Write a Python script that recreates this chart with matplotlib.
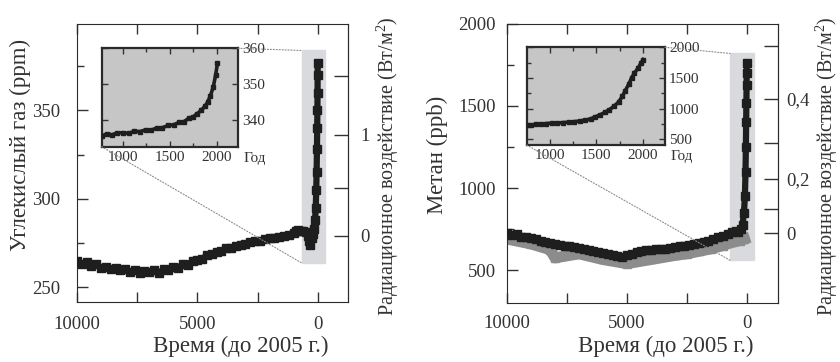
import numpy as np
import matplotlib.pyplot as plt
from matplotlib.patches import Rectangle, ConnectionPatch
from matplotlib.ticker import FixedLocator, FuncFormatter

plt.rcParams['font.family'] = ['Liberation Serif', 'DejaVu Serif']
plt.rcParams['mathtext.fontset'] = 'custom'
plt.rcParams['mathtext.rm'] = 'Liberation Serif'
plt.rcParams['text.color'] = '#333333'
plt.rcParams['xtick.color'] = '#333333'
plt.rcParams['ytick.color'] = '#333333'
plt.rcParams['axes.edgecolor'] = '#2a2a2a'

# углекислый газ, годы до 2005 г.
co2_years = [10000, 9800, 9600, 9400, 9200, 9000, 8800, 8600, 8400, 8200, 8000, 7800,
             7600, 7400, 7200, 7000, 6800, 6600, 6400, 6200, 6000, 5800, 5600, 5400,
             5200, 5000, 4800, 4600, 4400, 4200, 4000, 3800, 3600, 3400, 3200, 3000,
             2800, 2600, 2400, 2200, 2000, 1800, 1600, 1400, 1200, 1000, 900, 800,
             700, 600, 500, 420, 350, 300, 250, 200, 150, 110, 80, 60, 45, 30, 20,
             12, 6, 2, 0]
co2_ppm = [264.5, 263, 264, 262, 263, 261, 261.5, 260, 261, 259.5, 260, 258.5,
           259.5, 258, 259, 258.5, 259.5, 258, 260, 259.5, 261.5, 261, 263, 262.5,
           265, 265.5, 266, 268, 268.5, 270, 270.5, 272, 272, 273.5, 274, 274.5,
           275.5, 276, 276, 277, 277.5, 278, 278.5, 279, 279.5, 280.5, 282, 282.5,
           281.5, 282, 281, 279, 276, 274, 278, 280, 283, 288, 295, 305, 315, 328, 340,
           350, 360, 370, 377]

# метан: основной (чёрный) ряд и второй (серый) ряд
ch4_years = [10000, 9800, 9600, 9400, 9200, 9000, 8800, 8600, 8400, 8200, 8000, 7800,
             7600, 7400, 7200, 7000, 6800, 6600, 6400, 6200, 6000, 5800, 5600, 5400,
             5200, 5000, 4800, 4600, 4400, 4200, 4000, 3800, 3600, 3400, 3200, 3000,
             2800, 2600, 2400, 2200, 2000, 1800, 1600, 1400, 1200, 1000, 800, 600,
             450, 350, 250, 180, 120, 80, 55, 40, 28, 18, 10, 5, 0]
ch4_ppb = [725, 715, 720, 705, 700, 695, 690, 680, 672, 668, 660, 655,
           648, 645, 640, 632, 628, 620, 615, 608, 602, 598, 590, 585,
           582, 590, 600, 612, 615, 620, 625, 628, 630, 628, 635, 640,
           645, 650, 652, 658, 665, 670, 680, 690, 700, 710, 722, 735,
           740, 735, 750, 775, 850, 950, 1100, 1250, 1400, 1520, 1630, 1700, 1760]
ch4_years_b = [10000, 9000, 8200, 8000, 7000, 6000, 5000, 4000, 3000, 2500, 2000, 1500,
               1000, 600, 300, 100]
ch4_ppb_b = [690, 660, 625, 575, 600, 565, 540, 565, 590, 600, 615, 630,
             650, 670, 680, 690]

# вставки (годы н.э.)
co2_inset_year = [780, 830, 880, 940, 1000, 1060, 1120, 1180, 1240, 1300, 1360, 1420,
                  1480, 1540, 1600, 1650, 1700, 1750, 1790, 1830, 1870, 1900, 1930,
                  1960, 1985, 2005]
co2_inset_ppm = [335.6, 336.2, 335.9, 336.4, 336.5, 336.3, 336.9, 336.8, 337.3, 337.2,
                 337.8, 337.9, 338.5, 338.7, 339.4, 339.6, 340.5, 341.0, 341.8, 342.7,
                 343.8, 345.0, 346.8, 349.2, 352.5, 355.8]
ch4_inset_year = [760, 800, 850, 900, 960, 1020, 1080, 1140, 1200, 1260, 1320, 1380,
                  1440, 1490, 1540, 1590, 1640, 1690, 1740, 1780, 1810, 1850, 1880,
                  1910, 1950, 1980, 2005]
ch4_inset_ppb = [740, 730, 752, 745, 760, 765, 770, 775, 782, 790, 800, 815,
                 835, 870, 900, 940, 985, 1040, 1110, 1200, 1290, 1400, 1500,
                 1580, 1660, 1740, 1800]

fs = 13.5
fs_lab = 16.5
fs_rf = 14.5
fs_in = 11
dark = '#1e1e1e'
inset_bg = '#c6c6c6'
rect_c = '#d8dadd'

fig = plt.figure(figsize=(8.4, 3.62), dpi=100)


def main_ticks(ax, pad_y, pad_x):
    ax.tick_params(which='both', direction='in', top=True, right=False,
                   labelsize=fs, width=1)
    ax.tick_params(axis='y', which='major', length=8, pad=pad_y)
    ax.tick_params(axis='y', which='minor', length=5)
    ax.tick_params(axis='x', which='major', length=7, pad=pad_x)
    ax.tick_params(axis='x', which='minor', length=7)


def inset_ticks(ax):
    ax.set_facecolor(inset_bg)
    ax.tick_params(which='both', direction='in', top=True, right=True,
                   left=True, labelleft=False, labelright=True,
                   labelsize=fs_in, pad=3, length=4, width=1)
    ax.tick_params(which='minor', length=3)
    for s in ax.spines.values():
        s.set_linewidth(1.6)


# ---------- левая панель: CO2 ----------
ax1 = fig.add_axes([0.0917, 0.1657, 0.3226, 0.768])
ax1.add_patch(Rectangle((-300, 263.5), 950, 120.5, color=rect_c, zorder=0))
ax1.plot(co2_years, co2_ppm, color=dark, lw=4.5, marker='s', ms=5.5, zorder=3)
ax1.set_xlim(10000, -1260)
ax1.set_ylim(241.5, 399)
ax1.set_xticks([10000, 5000, 0])
ax1.xaxis.set_minor_locator(FixedLocator([7500, 2500]))
ax1.set_yticks([250, 300, 350])
ax1.yaxis.set_minor_locator(FixedLocator([275, 325, 375]))
main_ticks(ax1, 12, 10)

sec1 = ax1.secondary_yaxis('right', functions=(lambda c: 5.35 * np.log(c / 279.0),
                                                lambda f: 279.0 * np.exp(f / 5.35)))
sec1.set_yticks([0, 1])
sec1.yaxis.set_minor_locator(FixedLocator([0.5, 1.5]))
sec1.tick_params(which='both', direction='in', labelsize=fs, width=1, pad=9)
sec1.tick_params(which='major', length=10)
sec1.tick_params(which='minor', length=10)

fig.text(20 / 840, 1 - 145 / 362, 'Углекислый газ (ppm)', rotation=90,
         ha='center', va='center', fontsize=fs_lab)
fig.text(388 / 840, 1 - 166 / 362, 'Радиационное воздействие (Вт/м$^2$)', rotation=90,
         ha='center', va='center', fontsize=fs_rf)
fig.text(241 / 840, 1 - 346 / 362, 'Время (до 2005 г.)', ha='center', va='center',
         fontsize=fs_lab)

in1 = fig.add_axes([0.121, 0.5948, 0.1623, 0.2718])
inset_ticks(in1)
in1.plot(co2_inset_year, co2_inset_ppm, color=dark, lw=2.6, marker='s', ms=2.8, zorder=3)
in1.set_xlim(773, 2223)
in1.set_ylim(332.6, 360)
in1.set_xticks([1000, 1500, 2000])
in1.xaxis.set_minor_locator(FixedLocator([1250, 1750]))
in1.set_yticks([340, 350, 360])
in1.text(1.04, -0.12, 'Год', transform=in1.transAxes, fontsize=fs_in, va='center', ha='left')

for xy_in, xy_main in [((1, 1), (650, 384)), ((0, 0), (650, 263.5))]:
    fig.add_artist(ConnectionPatch(xyA=xy_in, coordsA=in1.transAxes, xyB=xy_main,
                                   coordsB=ax1.transData, color='#8a8a8a', lw=0.8, ls=':'))

# ---------- правая панель: метан ----------
ax2 = fig.add_axes([0.6036, 0.163, 0.3226, 0.771])
ax2.add_patch(Rectangle((-300, 560), 1000, 1260, color=rect_c, zorder=0))
ax2.plot(ch4_years_b, ch4_ppb_b, color='#8c8c8c', lw=8, marker='s', ms=6, zorder=2)
ax2.plot(ch4_years, ch4_ppb, color=dark, lw=4.5, marker='s', ms=5.5, zorder=3)
ax2.set_xlim(10000, -1300)
ax2.set_ylim(300, 2000)
ax2.set_xticks([10000, 5000, 0])
ax2.xaxis.set_minor_locator(FixedLocator([7500, 2500]))
ax2.set_yticks([500, 1000, 1500, 2000])
ax2.yaxis.set_minor_locator(FixedLocator([750, 1250, 1750]))
main_ticks(ax2, 8, 9)

sec2 = ax2.secondary_yaxis('right', functions=(lambda m: 0.53 * np.log(m / 725.0),
                                                lambda f: 725.0 * np.exp(f / 0.53)))
sec2.yaxis.set_major_locator(FixedLocator([0, 0.2, 0.4]))
sec2.yaxis.set_minor_locator(FixedLocator([0.1, 0.3, 0.5]))
sec2.yaxis.set_major_formatter(FuncFormatter(lambda v, p: ('%g' % round(v, 2)).replace('.', ',')))
sec2.tick_params(which='both', direction='in', labelsize=fs, width=1, pad=6)
sec2.tick_params(which='major', length=10)
sec2.tick_params(which='minor', length=10)

fig.text(437 / 840, 1 - 155 / 362, 'Метан (ppb)', rotation=90,
         ha='center', va='center', fontsize=fs_lab)
fig.text(827 / 840, 1 - 166 / 362, 'Радиационное воздействие (Вт/м$^2$)', rotation=90,
         ha='center', va='center', fontsize=fs_rf)
fig.text(666 / 840, 1 - 346 / 362, 'Время (до 2005 г.)', ha='center', va='center',
         fontsize=fs_lab)

in2 = fig.add_axes([0.627, 0.5994, 0.1646, 0.27])
inset_ticks(in2)
in2.plot(ch4_inset_year, ch4_inset_ppb, color=dark, lw=2.6, marker='s', ms=2.8, zorder=3)
in2.set_xlim(749, 2240)
in2.set_ylim(410, 2000)
in2.set_xticks([1000, 1500, 2000])
in2.xaxis.set_minor_locator(FixedLocator([1250, 1750]))
in2.set_yticks([500, 1000, 1500, 2000])
in2.yaxis.set_minor_locator(FixedLocator([750, 1250, 1750]))
in2.text(1.04, -0.12, 'Год', transform=in2.transAxes, fontsize=fs_in, va='center', ha='left')

for xy_in, xy_main in [((1, 1), (700, 1820)), ((0, 0), (700, 560))]:
    fig.add_artist(ConnectionPatch(xyA=xy_in, coordsA=in2.transAxes, xyB=xy_main,
                                   coordsB=ax2.transData, color='#8a8a8a', lw=0.8, ls=':'))

fig.savefig('out.png', dpi=100, facecolor='white')
